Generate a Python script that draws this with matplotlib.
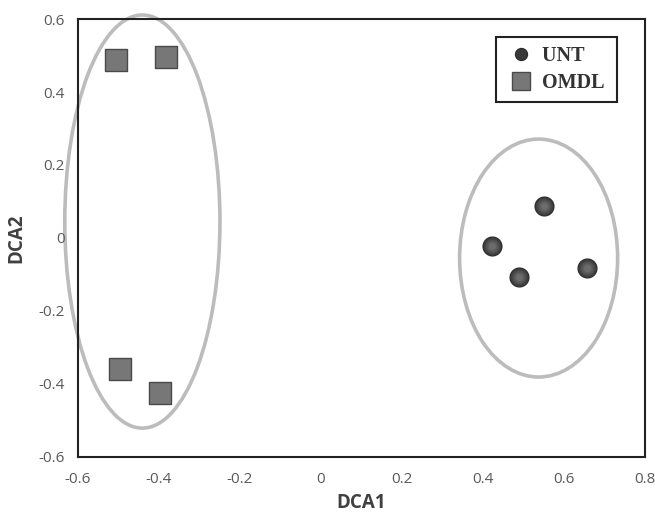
import numpy as np
from matplotlib import pyplot as plt
from matplotlib.patches import Ellipse
from matplotlib.lines import Line2D

# values
untX = [0.551, 0.422, 0.489, 0.657]
untY = [0.088, -0.022, -0.107, -0.082]
omdlX = [-0.506, -0.383, -0.496, -0.398]
omdlY = [0.488, 0.496, -0.359, -0.425]

# cluster ellipses: centre x, centre y, width, height
ellipseCX = [-0.441, 0.537]
ellipseCY = [0.045, -0.055]
ellipseW = [0.383, 0.390]
ellipseH = [1.132, 0.652]

xTicks = [-0.6, -0.4, -0.2, 0, 0.2, 0.4, 0.6, 0.8]
yTicks = [-0.6, -0.4, -0.2, 0, 0.2, 0.4, 0.6]

fig = plt.figure(figsize=(6.55, 5.14), dpi=100)
ax = fig.add_axes([0.119, 0.111, 0.866, 0.852])

for cx, cy, w, h in zip(ellipseCX, ellipseCY, ellipseW, ellipseH):
    ax.add_patch(Ellipse((cx, cy), w, h, fill=False, edgecolor='#bcbcbc',
                         lw=2.6, clip_on=False, zorder=1))

# squares
ax.scatter(omdlX, omdlY, marker='s', s=230, color='#777777',
           edgecolor='#4a4a4a', linewidth=1.0, zorder=3)

# spheres: stack of shrinking lighter discs to fake the shading
shades = ['#2e2e2e', '#3c3c3c', '#474747', '#525252', '#5e5e5e', '#6c6c6c']
sizes = [210, 170, 130, 90, 55, 25]
for c, s in zip(shades, sizes):
    ax.scatter(untX, untY, marker='o', s=s, color=c, linewidth=0, zorder=4)

ax.set_xlim(-0.6, 0.8)
ax.set_ylim(-0.6, 0.6)
ax.set_xticks(xTicks)
ax.set_yticks(yTicks)
ax.set_xticklabels(['-0.6', '-0.4', '-0.2', '0', '0.2', '0.4', '0.6', '0.8'])
ax.set_yticklabels(['-0.6', '-0.4', '-0.2', '0', '0.2', '0.4', '0.6'])
ax.tick_params(length=0, labelsize=11, labelcolor='#595959')
ax.tick_params(axis='y', pad=9.5)
ax.tick_params(axis='x', pad=10.5)
for lab in ax.get_xticklabels() + ax.get_yticklabels():
    lab.set_family('Open Sans')

for sp in ax.spines.values():
    sp.set_linewidth(1.5)
    sp.set_color('#222222')

ax.set_xlabel('DCA1', family='Open Sans', fontweight='bold', fontsize=13.5,
              color='#404040', labelpad=5)
ax.set_ylabel('DCA2', family='Open Sans', fontweight='bold', fontsize=13.5,
              color='#404040', labelpad=9)

handles = [
    Line2D([], [], marker='o', linestyle='none', markersize=8.6,
           markerfacecolor='#3a3a3a', markeredgecolor='#2e2e2e'),
    Line2D([], [], marker='s', linestyle='none', markersize=13,
           markerfacecolor='#777777', markeredgecolor='#4a4a4a'),
]
leg = ax.legend(handles, ['UNT ', 'OMDL '], loc='upper right',
                bbox_to_anchor=(0.951, 0.959), borderaxespad=0,
                fancybox=False, framealpha=1,
                edgecolor='#222222', handletextpad=0.25, handlelength=1.6,
                borderpad=0.45, labelspacing=0.35,
                prop={'family': 'Liberation Serif', 'weight': 'bold', 'size': 14.5})
leg.get_frame().set_linewidth(1.5)
for t in leg.get_texts():
    t.set_color('#333333')

fig.savefig('out.png', dpi=100)
